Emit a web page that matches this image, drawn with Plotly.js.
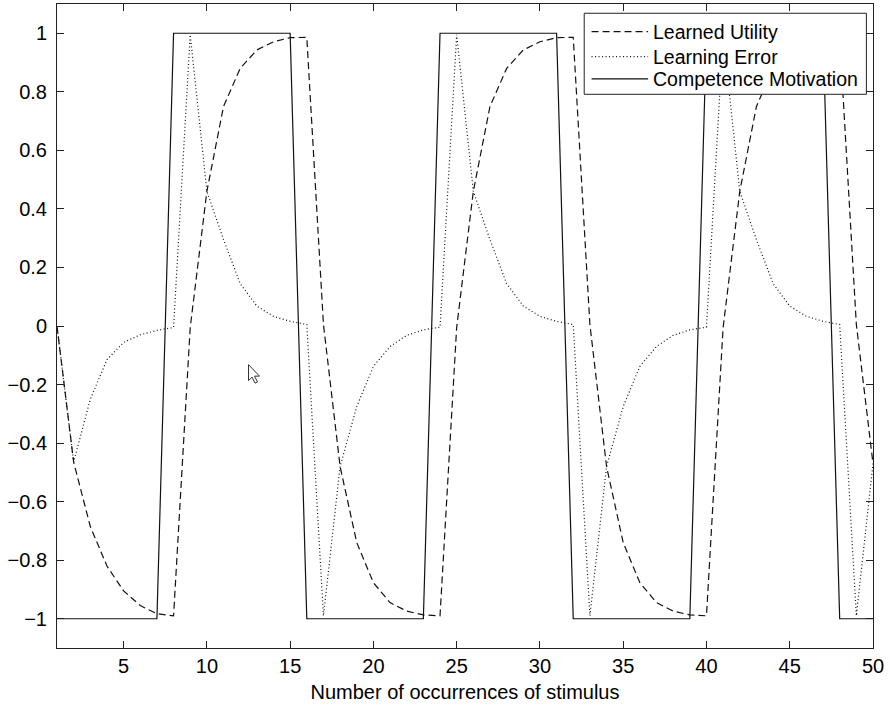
<!DOCTYPE html>
<html>
<head>
<meta charset="utf-8">
<script src="https://cdn.plot.ly/plotly-3.0.1.min.js"></script>
<style>
  html, body { margin: 0; padding: 0; background: #fff; }
  #chart { width: 890px; height: 709px; }
</style>
</head>
<body>
<div id="chart"></div>
<script>
// Number of occurrences of stimulus
const occurrences = [1,2,3,4,5,6,7,8,9,10,11,12,13,14,15,16,17,18,19,20,21,22,23,24,25,
                     26,27,28,29,30,31,32,33,34,35,36,37,38,39,40,41,42,43,44,45,46,47,48,49,50];

// Learned Utility (dashed)
const learnedUtility = [0, -0.465, -0.685, -0.82, -0.905, -0.955, -0.983, -0.99,
  -0.005, 0.46, 0.75, 0.88, 0.943, 0.971, 0.985, 0.986,
  0.005, -0.48, -0.74, -0.877, -0.945, -0.974, -0.987, -0.99,
  -0.005, 0.46, 0.75, 0.88, 0.943, 0.971, 0.985, 0.986,
  0.005, -0.48, -0.74, -0.877, -0.945, -0.974, -0.987, -0.99,
  -0.005, 0.46, 0.75, 0.88, 0.943, 0.971, 0.985, 0.986,
  0.005, -0.47];

// Learning Error (dotted)
const learningError = [0, -0.465, -0.25, -0.115, -0.056, -0.03, -0.015, -0.005,
  0.995, 0.46, 0.295, 0.145, 0.068, 0.033, 0.016, 0.005,
  -0.99, -0.48, -0.275, -0.138, -0.07, -0.032, -0.013, -0.004,
  0.995, 0.46, 0.295, 0.145, 0.068, 0.033, 0.016, 0.005,
  -0.99, -0.48, -0.275, -0.138, -0.07, -0.032, -0.013, -0.004,
  0.995, 0.46, 0.295, 0.145, 0.068, 0.033, 0.016, 0.005,
  -0.99, -0.47];

// Competence Motivation (solid)
const competenceMotivation = [-1,-1,-1,-1,-1,-1,-1,
  1,1,1,1,1,1,1,1,
  -1,-1,-1,-1,-1,-1,-1,-1,
  1,1,1,1,1,1,1,1,
  -1,-1,-1,-1,-1,-1,-1,-1,
  1,1,1,1,1,1,1,1,
  -1,-1,-1];

const seriesNames = ['Learned Utility', 'Learning Error', 'Competence Motivation'];
const seriesDash = ['7px,4px', '1px,2.5px', 'solid'];
const xTickVals = [5,10,15,20,25,30,35,40,45,50];
const yTickVals = [-1,-0.8,-0.6,-0.4,-0.2,0,0.2,0.4,0.6,0.8,1];
const yTickText = ['\u22121','\u22120.8','\u22120.6','\u22120.4','\u22120.2','0','0.2','0.4','0.6','0.8','1'];
const xTitle = 'Number of occurrences of stimulus';

const FONT = 'Liberation Sans, Arial, Helvetica, sans-serif';
const INK = '#111';

const seriesValues = [learnedUtility, learningError, competenceMotivation];
const traces = seriesValues.map((vals, i) => ({
  x: occurrences, y: vals, name: seriesNames[i], mode: 'lines', showlegend: false,
  line: { color: INK, width: 1.2, dash: seriesDash[i] }
}));

// Legend box drawn in paper space (MATLAB-style compact legend)
const legendBox = { x0: 0.6461, x1: 0.9919, y0: 0.8598, y1: 0.9856 };
const legendRowY = [0.957, 0.9182, 0.8836];
const legendLineX = [0.6551, 0.7244];
const legendTextX = 0.7278;

const shapes = [{
  type: 'rect', xref: 'paper', yref: 'paper',
  x0: legendBox.x0, x1: legendBox.x1, y0: legendBox.y0, y1: legendBox.y1,
  line: { color: '#222', width: 1 }, fillcolor: '#fff', layer: 'above'
}];
const annotations = [];
seriesNames.forEach((name, i) => {
  shapes.push({
    type: 'line', xref: 'paper', yref: 'paper',
    x0: legendLineX[0], x1: legendLineX[1], y0: legendRowY[i], y1: legendRowY[i],
    line: { color: INK, width: 1.2, dash: seriesDash[i] }, layer: 'above'
  });
  annotations.push({
    xref: 'paper', yref: 'paper', x: legendTextX, y: legendRowY[i],
    xanchor: 'left', yanchor: 'middle', showarrow: false, text: name,
    font: { family: FONT, size: 19.5, color: '#000' }
  });
});
// mouse pointer visible in the original screenshot
shapes.push({
  type: 'path', xref: 'x', yref: 'y',
  xsizemode: 'pixel', ysizemode: 'pixel', xanchor: 12.5, yanchor: -0.132,
  path: 'M0,0 L0,-16 L3.5,-12.5 L6.5,-18.5 L9,-17.3 L6,-11.5 L11,-11.5 Z',
  line: { color: '#333', width: 1 }, fillcolor: '#fff'
});

const axisCommon = {
  showgrid: false, zeroline: false,
  showline: true, linecolor: '#222', linewidth: 1, mirror: 'ticks',
  ticks: 'inside', ticklen: 7, tickwidth: 1, tickcolor: '#222',
  tickfont: { family: FONT, size: 20, color: '#000' }
};

const layout = {
  width: 890, height: 709,
  margin: { l: 57, r: 17, t: 4, b: 61 },
  paper_bgcolor: '#fff', plot_bgcolor: '#fff',
  font: { family: FONT, color: '#000' },
  showlegend: false,
  xaxis: Object.assign({}, axisCommon, {
    range: [1, 50], tickvals: xTickVals, ticklabelstandoff: 0,
    title: { text: xTitle, font: { family: FONT, size: 20, color: '#000' }, standoff: 8 }
  }),
  yaxis: Object.assign({}, axisCommon, {
    range: [-1.1, 1.1], tickvals: yTickVals, ticktext: yTickText, ticklabelstandoff: 5
  }),
  shapes: shapes,
  annotations: annotations
};

Plotly.newPlot('chart', traces, layout, { staticPlot: true, displayModeBar: false });
</script>
</body>
</html>
